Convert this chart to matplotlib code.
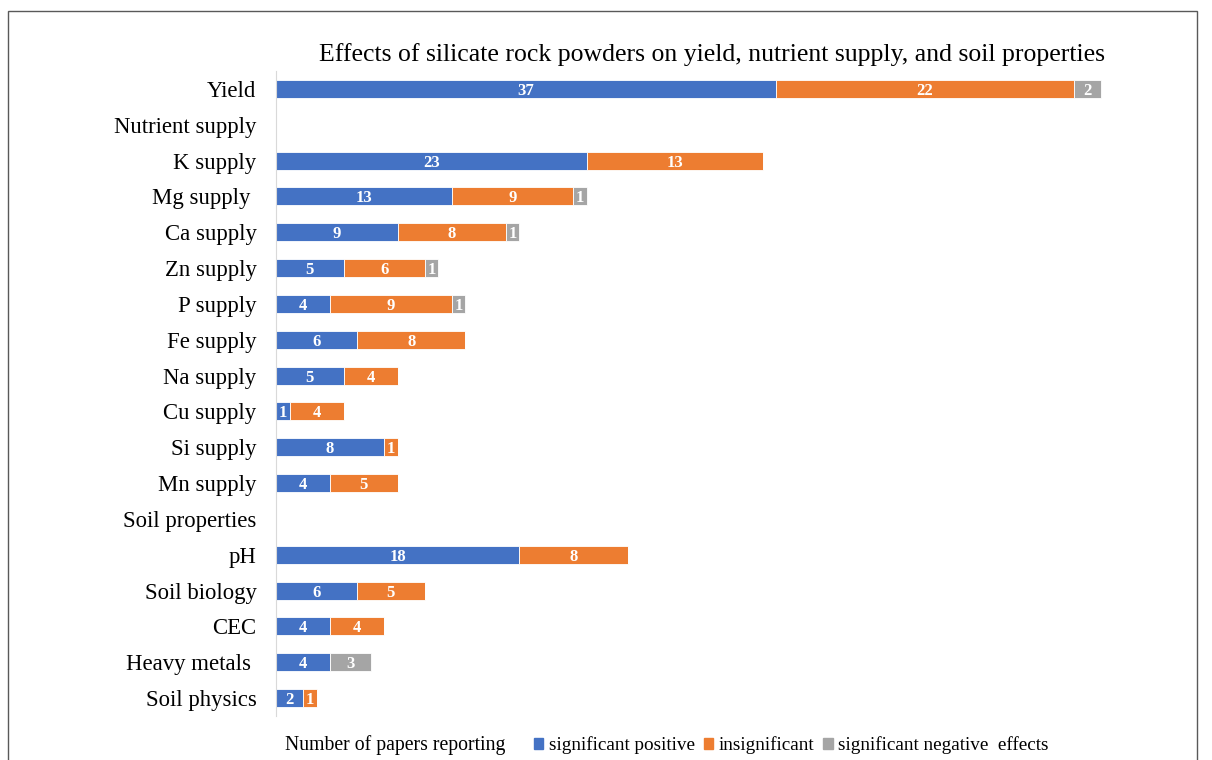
import matplotlib.pyplot as plt
import numpy as np
from matplotlib.patches import Rectangle, Patch

categories = [
    "Yield", "Nutrient supply", "K supply", "Mg supply ", "Ca supply", "Zn supply",
    "P supply", "Fe supply", "Na supply", "Cu supply", "Si supply", "Mn supply",
    "Soil properties", "pH", "Soil biology", "CEC", "Heavy metals ", "Soil physics",
]
positive = [37, 0, 23, 13, 9, 5, 4, 6, 5, 1, 8, 4, 0, 18, 6, 4, 4, 2]
insignificant = [22, 0, 13, 9, 8, 6, 9, 8, 4, 4, 1, 5, 0, 8, 5, 4, 0, 1]
negative = [2, 0, 0, 1, 1, 1, 1, 0, 0, 0, 0, 0, 0, 0, 0, 0, 3, 0]

series = [
    ("significant positive", positive, "#4472C4"),
    ("insignificant", insignificant, "#ED7D31"),
    ("significant negative  effects", negative, "#A5A5A5"),
]

plt.rcParams["font.family"] = ["Liberation Serif", "DejaVu Serif"]

W, H = 1212, 760
fig = plt.figure(figsize=(W / 100, H / 100), dpi=100)
ax = fig.add_axes([276 / W, 1 - 716 / H, (1190 - 276) / W, (716 - 71) / H])

y = np.arange(len(categories))
left = np.zeros(len(categories))
for name, values, color in series:
    vals = np.array(values, dtype=float)
    bars = ax.barh(y, vals, left=left, height=0.5, color=color,
                   edgecolor="white", linewidth=0.6, label=name)
    for rect, v in zip(bars, vals):
        if v > 0:
            ax.text(rect.get_x() + rect.get_width() / 2, rect.get_y() + rect.get_height() / 2,
                    f"{int(v)}", ha="center", va="center_baseline", color="white",
                    fontsize=12, fontweight="bold")
    left += vals

ax.set_xlim(0, (1190 - 276) / 13.52)
ax.set_ylim(len(categories) - 0.5, -0.5)
ax.set_yticks(y)
ax.set_yticklabels(categories, fontsize=16.4)
ax.tick_params(axis="y", length=0, pad=14)
ax.set_xticks([])
for side in ["top", "right", "bottom"]:
    ax.spines[side].set_visible(False)
ax.spines["left"].set_color("#D9D9D9")

fig.text(712 / W, 1 - 55 / H,
         "Effects of silicate rock powders on yield, nutrient supply, and soil properties",
         ha="center", va="center", fontsize=18.5)

fig.text(285 / W, 1 - 745 / H, "Number of papers reporting", ha="left", va="center", fontsize=14.2)
handles = [Patch(color=c, label=n) for n, _, c in series]
fig.legend(handles=handles, loc="center left", bbox_to_anchor=(524 / W, 1 - 745 / H),
           ncol=3, frameon=False, fontsize=13.8, handlelength=0.5, handleheight=0.5,
           handletextpad=0.3, columnspacing=0.45, borderpad=0)

fig.patches.append(Rectangle((8 / W, -0.05), (1197 - 8) / W, 1.05 - 11 / H,
                             transform=fig.transFigure, fill=False,
                             edgecolor="#595959", linewidth=1))

fig.savefig("out.png", dpi=100)
